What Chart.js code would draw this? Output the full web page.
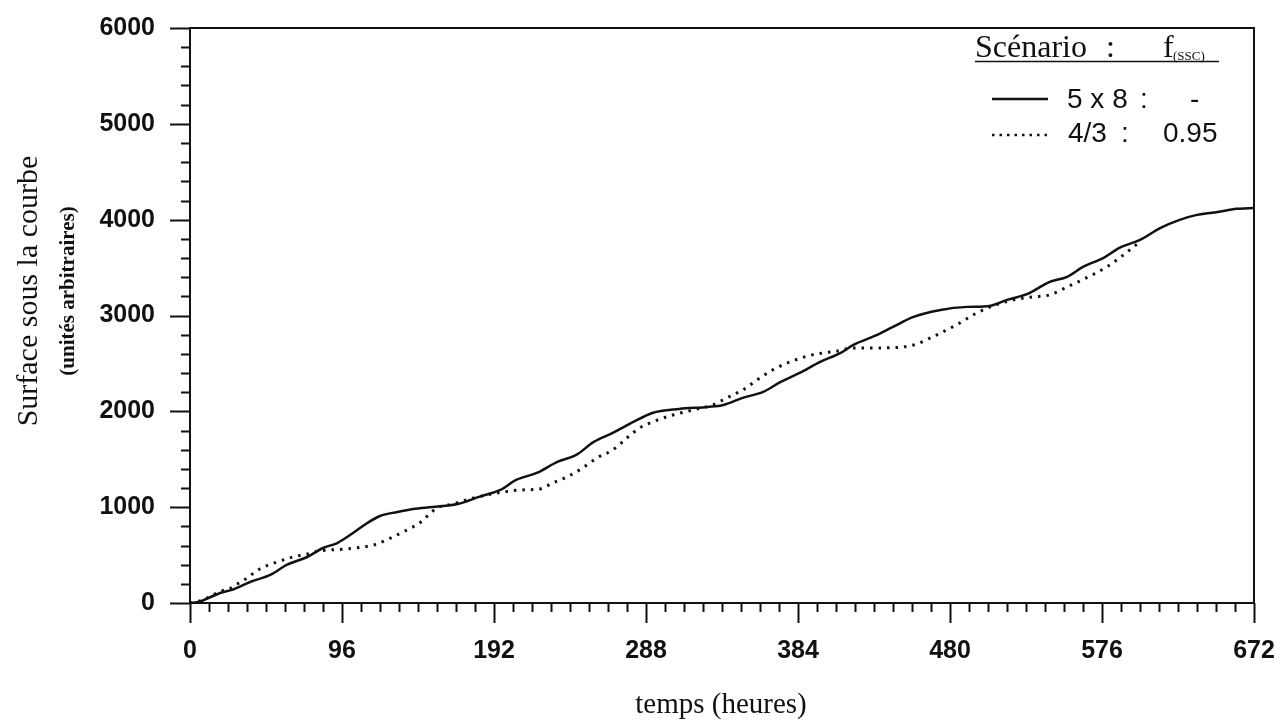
<!DOCTYPE html>
<html lang="fr">
<head>
<meta charset="utf-8">
<title>Surface sous la courbe</title>
<script src="https://cdn.jsdelivr.net/npm/chart.js@4.4.1/dist/chart.umd.min.js"></script>
<style>
  html, body { margin: 0; padding: 0; background: #fff; }
  #wrap { position: relative; width: 1280px; height: 724px; }
</style>
</head>
<body>
<div id="wrap"><canvas id="c" width="1280" height="724"></canvas></div>
<script>
// Scénario 5 x 8 : temps (heures) et surface cumulée
const heures5x8 = [0, 6, 12, 19, 27, 38, 51, 61, 74, 84, 93, 103, 112, 120, 131, 141, 153, 169, 183,
  196, 206, 219, 232, 244, 255, 267, 280, 292, 309, 327, 337, 349, 362, 373, 385, 398, 411, 419,
  434, 444, 457, 474, 491, 505, 516, 529, 543, 554, 564, 577, 587, 600, 613, 625, 636, 649, 661, 672];
const surface5x8 = [0, 14, 55, 104, 140, 219, 295, 397, 480, 574, 626, 731, 835, 908, 950, 981, 1002, 1033, 1110,
  1180, 1284, 1357, 1472, 1545, 1681, 1774, 1889, 1983, 2025, 2046, 2067, 2140, 2203, 2307, 2401, 2516, 2610, 2693,
  2797, 2881, 2985, 3058, 3090, 3100, 3163, 3225, 3351, 3403, 3507, 3601, 3706, 3789, 3914, 3998, 4050, 4081, 4113, 4123];

// Scénario 4/3 (f(SSC) = 0.95)
const heures4sur3 = [0, 8, 14, 20, 25, 30, 36, 44, 55, 65, 74, 82, 88, 99, 109, 116, 124, 137, 145, 152, 156,
  166, 177, 188, 198, 210, 221, 229, 238, 248, 257, 267, 276, 284, 292, 305, 318, 330, 339, 349, 360, 368,
  379, 393, 409, 419, 438, 457, 469, 484, 497, 507, 520, 532, 543, 554, 566, 579, 592, 600];
const surface4sur3 = [0, 30, 80, 125, 150, 200, 261, 355, 428, 480, 511, 545, 553, 564, 584, 605, 658, 762, 835, 939, 992,
  1033, 1086, 1130, 1159, 1180, 1190, 1252, 1315, 1409, 1514, 1597, 1722, 1827, 1889, 1962, 2015, 2067, 2140, 2223, 2349, 2432,
  2516, 2589, 2630, 2662, 2662, 2693, 2777, 2902, 3027, 3100, 3163, 3194, 3215, 3298, 3392, 3507, 3664, 3770];

// Graduations
const xMajorTicks = [0, 96, 192, 288, 384, 480, 576, 672];
const yMajorTicks = [0, 1000, 2000, 3000, 4000, 5000, 6000];

const toPoints = (xs, ys) => xs.map((h, i) => ({ x: h, y: ys[i] }));

const INK = '#111';

// Cadre, graduations, titres des axes et légende
const decor = {
  id: 'decor',
  afterDraw(chart) {
    const { ctx, chartArea: a, scales: { x, y } } = chart;
    ctx.save();
    ctx.strokeStyle = INK;
    ctx.fillStyle = INK;
    ctx.lineWidth = 2;
    ctx.strokeRect(a.left, a.top, a.right - a.left, a.bottom - a.top);

    ctx.beginPath();
    x.ticks.forEach(t => {
      const px = Math.round(x.getPixelForValue(t.value)) + 0.5;
      const len = xMajorTicks.includes(t.value) ? 20 : 9;
      ctx.moveTo(px, a.bottom);
      ctx.lineTo(px, a.bottom + len);
    });
    y.ticks.forEach(t => {
      const py = Math.round(y.getPixelForValue(t.value)) + 0.5;
      const len = yMajorTicks.includes(t.value) ? 20 : 9;
      ctx.moveTo(a.left, py);
      ctx.lineTo(a.left - len, py);
    });
    ctx.stroke();

    // titre de l'axe horizontal
    ctx.textAlign = 'center';
    ctx.textBaseline = 'alphabetic';
    ctx.font = '29px "Liberation Serif", "Times New Roman", serif';
    ctx.fillText('temps (heures)', 721, 713);

    // titres de l'axe vertical
    ctx.save();
    ctx.translate(37, 291);
    ctx.rotate(-Math.PI / 2);
    ctx.font = '30px "Liberation Serif", "Times New Roman", serif';
    ctx.fillText('Surface sous la courbe', 0, 0);
    ctx.restore();
    ctx.save();
    ctx.translate(74, 291);
    ctx.rotate(-Math.PI / 2);
    ctx.font = 'bold 21px "Liberation Serif", "Times New Roman", serif';
    ctx.fillText('(unités arbitraires)', 0, 0);
    ctx.restore();

    // légende
    ctx.textAlign = 'left';
    ctx.font = '32px "Liberation Serif", "Times New Roman", serif';
    ctx.fillText('Scénario', 975, 57);
    ctx.fillText(':', 1106, 57);
    ctx.fillText('f', 1163, 57);
    ctx.font = '13px "Liberation Serif", "Times New Roman", serif';
    ctx.fillText('(SSC)', 1173, 60);
    ctx.lineWidth = 1.5;
    ctx.beginPath();
    ctx.moveTo(975, 61.5);
    ctx.lineTo(1219, 61.5);
    ctx.stroke();

    ctx.lineWidth = 2.5;
    ctx.beginPath();
    ctx.moveTo(992, 99);
    ctx.lineTo(1048, 99);
    ctx.stroke();
    ctx.setLineDash([2.5, 5]);
    ctx.beginPath();
    ctx.moveTo(992, 135);
    ctx.lineTo(1048, 135);
    ctx.stroke();
    ctx.setLineDash([]);

    ctx.textBaseline = 'middle';
    ctx.font = '28px "Liberation Sans Narrow", "Liberation Sans", Arial, sans-serif';
    ctx.fillText('5 x 8', 1067, 100);
    ctx.fillText(':', 1140, 100);
    ctx.fillText('-', 1190, 100);
    ctx.fillText('4/3', 1068, 134);
    ctx.fillText(':', 1121, 134);
    ctx.fillText('0.95', 1163, 134);
    ctx.restore();
  }
};

new Chart(document.getElementById('c'), {
  type: 'line',
  data: {
    datasets: [
      {
        label: '5 x 8',
        data: toPoints(heures5x8, surface5x8),
        borderColor: INK,
        borderWidth: 2.5,
        pointRadius: 0,
        cubicInterpolationMode: 'monotone',
        fill: false
      },
      {
        label: '4/3',
        data: toPoints(heures4sur3, surface4sur3),
        borderColor: INK,
        borderWidth: 3,
        borderDash: [2.5, 6],
        pointRadius: 0,
        cubicInterpolationMode: 'monotone',
        fill: false
      }
    ]
  },
  options: {
    responsive: false,
    devicePixelRatio: 1,
    animation: false,
    layout: { padding: { top: 28, right: 26, left: 0, bottom: 0 } },
    plugins: { legend: { display: false }, tooltip: { enabled: false } },
    scales: {
      x: {
        type: 'linear',
        min: 0,
        max: 672,
        grid: { display: false, drawTicks: false },
        border: { display: false },
        ticks: {
          stepSize: 12,
          autoSkip: false,
          maxRotation: 0,
          minRotation: 0,
          padding: 33,
          color: INK,
          font: { family: '"Liberation Sans", Arial, sans-serif', size: 25, weight: 'bold' },
          callback: v => (xMajorTicks.includes(v) ? String(v) : '')
        },
        afterFit: s => { s.height = 121; s.paddingLeft = 0; s.paddingRight = 0; }
      },
      y: {
        min: 0,
        max: 6000,
        grid: { display: false, drawTicks: false },
        border: { display: false },
        ticks: {
          stepSize: 200,
          autoSkip: false,
          padding: 35,
          color: INK,
          font: { family: '"Liberation Sans", Arial, sans-serif', size: 25, weight: 'bold' },
          callback: v => (yMajorTicks.includes(v) ? String(v) : '')
        },
        afterFit: s => { s.width = 190; s.paddingTop = 0; s.paddingBottom = 0; }
      }
    }
  },
  plugins: [decor]
});
</script>
</body>
</html>
